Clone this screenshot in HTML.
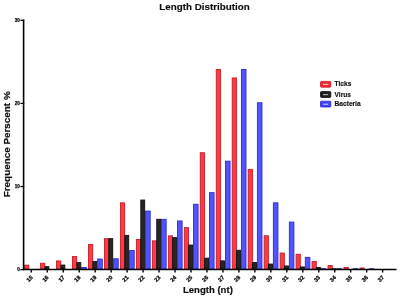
<!DOCTYPE html>
<html><head><meta charset="utf-8"><style>
html,body{margin:0;padding:0;background:#fff;width:400px;height:298px;overflow:hidden}
svg{display:block;will-change:transform}
text{font-family:"Liberation Sans",sans-serif;font-weight:bold;fill:#111}
.yt{font-size:4.6px;stroke:#111;stroke-width:0.25px}
.xt{font-size:5.6px;stroke:#111;stroke-width:0.3px}
.lg{font-size:6.6px;stroke:#111;stroke-width:0.15px}
.ti{font-size:9.8px;stroke:#111;stroke-width:0.15px}
.al{font-size:9.4px;stroke:#111;stroke-width:0.2px}
</style></head><body>
<svg width="400" height="298" viewBox="0 0 400 298">
<rect width="400" height="298" fill="#fff"/>
<text transform="translate(204.5,10.1) scale(1,1)" text-anchor="middle" class="ti">Length Distribution</text>
<text transform="translate(9.6,144.3) rotate(-90)" text-anchor="middle" class="al" style="font-size:9.9px">Frequence Perscent %</text>
<text x="207.9" y="292.7" text-anchor="middle" class="al" style="font-size:9.55px">Length (nt)</text>
<rect x="24.60" y="265.15" width="4.20" height="3.85" fill="#ff3c3c" stroke="#c8182a" stroke-width="0.9"/>
<rect x="40.57" y="263.25" width="4.20" height="5.75" fill="#ff3c3c" stroke="#c8182a" stroke-width="0.9"/>
<rect x="44.97" y="266.65" width="3.90" height="2.35" fill="#262626" stroke="#111111" stroke-width="0.9"/>
<rect x="56.54" y="260.95" width="4.20" height="8.05" fill="#ff3c3c" stroke="#c8182a" stroke-width="0.9"/>
<rect x="60.94" y="265.05" width="3.90" height="3.95" fill="#262626" stroke="#111111" stroke-width="0.9"/>
<rect x="72.51" y="256.55" width="4.20" height="12.45" fill="#ff3c3c" stroke="#c8182a" stroke-width="0.9"/>
<rect x="81.71" y="267.45" width="4.60" height="1.55" fill="#5252ff" stroke="#2e2ed0" stroke-width="0.9"/>
<rect x="76.91" y="262.65" width="3.90" height="6.35" fill="#262626" stroke="#111111" stroke-width="0.9"/>
<rect x="88.48" y="244.55" width="4.20" height="24.45" fill="#ff3c3c" stroke="#c8182a" stroke-width="0.9"/>
<rect x="97.68" y="259.05" width="4.60" height="9.95" fill="#5252ff" stroke="#2e2ed0" stroke-width="0.9"/>
<rect x="92.88" y="261.55" width="3.90" height="7.45" fill="#262626" stroke="#111111" stroke-width="0.9"/>
<rect x="104.45" y="238.65" width="4.20" height="30.35" fill="#ff3c3c" stroke="#c8182a" stroke-width="0.9"/>
<rect x="113.65" y="258.75" width="4.60" height="10.25" fill="#5252ff" stroke="#2e2ed0" stroke-width="0.9"/>
<rect x="108.85" y="238.65" width="3.90" height="30.35" fill="#262626" stroke="#111111" stroke-width="0.9"/>
<rect x="120.42" y="202.85" width="4.20" height="66.15" fill="#ff3c3c" stroke="#c8182a" stroke-width="0.9"/>
<rect x="129.62" y="250.45" width="4.60" height="18.55" fill="#5252ff" stroke="#2e2ed0" stroke-width="0.9"/>
<rect x="124.82" y="235.35" width="3.90" height="33.65" fill="#262626" stroke="#111111" stroke-width="0.9"/>
<rect x="136.39" y="239.45" width="4.20" height="29.55" fill="#ff3c3c" stroke="#c8182a" stroke-width="0.9"/>
<rect x="145.59" y="211.05" width="4.60" height="57.95" fill="#5252ff" stroke="#2e2ed0" stroke-width="0.9"/>
<rect x="140.79" y="200.05" width="3.90" height="68.95" fill="#262626" stroke="#111111" stroke-width="0.9"/>
<rect x="152.36" y="240.85" width="4.20" height="28.15" fill="#ff3c3c" stroke="#c8182a" stroke-width="0.9"/>
<rect x="161.56" y="219.35" width="4.60" height="49.65" fill="#5252ff" stroke="#2e2ed0" stroke-width="0.9"/>
<rect x="156.76" y="219.25" width="3.90" height="49.75" fill="#262626" stroke="#111111" stroke-width="0.9"/>
<rect x="168.33" y="235.85" width="4.20" height="33.15" fill="#ff3c3c" stroke="#c8182a" stroke-width="0.9"/>
<rect x="177.53" y="220.95" width="4.60" height="48.05" fill="#5252ff" stroke="#2e2ed0" stroke-width="0.9"/>
<rect x="172.73" y="237.65" width="3.90" height="31.35" fill="#262626" stroke="#111111" stroke-width="0.9"/>
<rect x="184.30" y="227.65" width="4.20" height="41.35" fill="#ff3c3c" stroke="#c8182a" stroke-width="0.9"/>
<rect x="193.50" y="204.25" width="4.60" height="64.75" fill="#5252ff" stroke="#2e2ed0" stroke-width="0.9"/>
<rect x="188.70" y="245.05" width="3.90" height="23.95" fill="#262626" stroke="#111111" stroke-width="0.9"/>
<rect x="200.27" y="152.75" width="4.20" height="116.25" fill="#ff3c3c" stroke="#c8182a" stroke-width="0.9"/>
<rect x="209.47" y="192.65" width="4.60" height="76.35" fill="#5252ff" stroke="#2e2ed0" stroke-width="0.9"/>
<rect x="204.67" y="258.15" width="3.90" height="10.85" fill="#262626" stroke="#111111" stroke-width="0.9"/>
<rect x="216.24" y="69.45" width="4.20" height="199.55" fill="#ff3c3c" stroke="#c8182a" stroke-width="0.9"/>
<rect x="225.44" y="161.15" width="4.60" height="107.85" fill="#5252ff" stroke="#2e2ed0" stroke-width="0.9"/>
<rect x="220.64" y="260.85" width="3.90" height="8.15" fill="#262626" stroke="#111111" stroke-width="0.9"/>
<rect x="232.21" y="77.95" width="4.20" height="191.05" fill="#ff3c3c" stroke="#c8182a" stroke-width="0.9"/>
<rect x="241.41" y="69.45" width="4.60" height="199.55" fill="#5252ff" stroke="#2e2ed0" stroke-width="0.9"/>
<rect x="236.61" y="250.25" width="3.90" height="18.75" fill="#262626" stroke="#111111" stroke-width="0.9"/>
<rect x="248.18" y="169.35" width="4.20" height="99.65" fill="#ff3c3c" stroke="#c8182a" stroke-width="0.9"/>
<rect x="257.38" y="102.75" width="4.60" height="166.25" fill="#5252ff" stroke="#2e2ed0" stroke-width="0.9"/>
<rect x="252.58" y="262.45" width="3.90" height="6.55" fill="#262626" stroke="#111111" stroke-width="0.9"/>
<rect x="264.15" y="235.75" width="4.20" height="33.25" fill="#ff3c3c" stroke="#c8182a" stroke-width="0.9"/>
<rect x="273.35" y="202.85" width="4.60" height="66.15" fill="#5252ff" stroke="#2e2ed0" stroke-width="0.9"/>
<rect x="268.55" y="264.05" width="3.90" height="4.95" fill="#262626" stroke="#111111" stroke-width="0.9"/>
<rect x="280.12" y="253.05" width="4.20" height="15.95" fill="#ff3c3c" stroke="#c8182a" stroke-width="0.9"/>
<rect x="289.32" y="222.05" width="4.60" height="46.95" fill="#5252ff" stroke="#2e2ed0" stroke-width="0.9"/>
<rect x="284.52" y="265.95" width="3.90" height="3.05" fill="#262626" stroke="#111111" stroke-width="0.9"/>
<rect x="296.09" y="254.25" width="4.20" height="14.75" fill="#ff3c3c" stroke="#c8182a" stroke-width="0.9"/>
<rect x="305.29" y="257.35" width="4.60" height="11.65" fill="#5252ff" stroke="#2e2ed0" stroke-width="0.9"/>
<rect x="300.49" y="266.95" width="3.90" height="2.05" fill="#262626" stroke="#111111" stroke-width="0.9"/>
<rect x="312.06" y="261.45" width="4.20" height="7.55" fill="#ff3c3c" stroke="#c8182a" stroke-width="0.9"/>
<rect x="321.26" y="268.65" width="4.60" height="0.35" fill="#5252ff" stroke="#2e2ed0" stroke-width="0.9"/>
<rect x="316.46" y="267.45" width="3.90" height="1.55" fill="#262626" stroke="#111111" stroke-width="0.9"/>
<rect x="328.03" y="265.55" width="4.20" height="3.45" fill="#ff3c3c" stroke="#c8182a" stroke-width="0.9"/>
<rect x="337.23" y="268.65" width="4.60" height="0.35" fill="#5252ff" stroke="#2e2ed0" stroke-width="0.9"/>
<rect x="332.43" y="268.75" width="3.90" height="0.25" fill="#262626" stroke="#111111" stroke-width="0.9"/>
<rect x="344.00" y="267.35" width="4.20" height="1.65" fill="#ff3c3c" stroke="#c8182a" stroke-width="0.9"/>
<rect x="353.20" y="268.65" width="4.60" height="0.35" fill="#5252ff" stroke="#2e2ed0" stroke-width="0.9"/>
<rect x="359.97" y="268.05" width="4.20" height="0.95" fill="#ff3c3c" stroke="#c8182a" stroke-width="0.9"/>
<rect x="369.17" y="268.75" width="4.60" height="0.25" fill="#5252ff" stroke="#2e2ed0" stroke-width="0.9"/>
<line x1="23.6" y1="19.6" x2="23.6" y2="270.1" stroke="#000" stroke-width="1.6"/>
<line x1="22.8" y1="269.55" x2="396.5" y2="269.55" stroke="#000" stroke-width="1.5"/>
<line x1="20.4" y1="269.60" x2="24.2" y2="269.60" stroke="#000" stroke-width="1.3"/>
<text x="19.8" y="271.20" text-anchor="end" class="yt">0</text>
<line x1="20.4" y1="186.50" x2="24.2" y2="186.50" stroke="#000" stroke-width="1.3"/>
<text x="19.8" y="188.10" text-anchor="end" class="yt">10</text>
<line x1="20.4" y1="103.40" x2="24.2" y2="103.40" stroke="#000" stroke-width="1.3"/>
<text x="19.8" y="105.00" text-anchor="end" class="yt">20</text>
<line x1="20.4" y1="20.30" x2="24.2" y2="20.30" stroke="#000" stroke-width="1.3"/>
<text x="19.8" y="21.90" text-anchor="end" class="yt">30</text>
<line x1="31.30" y1="269" x2="31.30" y2="272.5" stroke="#000" stroke-width="1.4"/>
<text transform="translate(33.10,277.9) rotate(-45)" text-anchor="end" class="xt">15</text>
<line x1="47.27" y1="269" x2="47.27" y2="272.5" stroke="#000" stroke-width="1.4"/>
<text transform="translate(49.07,277.9) rotate(-45)" text-anchor="end" class="xt">16</text>
<line x1="63.24" y1="269" x2="63.24" y2="272.5" stroke="#000" stroke-width="1.4"/>
<text transform="translate(65.04,277.9) rotate(-45)" text-anchor="end" class="xt">17</text>
<line x1="79.21" y1="269" x2="79.21" y2="272.5" stroke="#000" stroke-width="1.4"/>
<text transform="translate(81.01,277.9) rotate(-45)" text-anchor="end" class="xt">18</text>
<line x1="95.18" y1="269" x2="95.18" y2="272.5" stroke="#000" stroke-width="1.4"/>
<text transform="translate(96.98,277.9) rotate(-45)" text-anchor="end" class="xt">19</text>
<line x1="111.15" y1="269" x2="111.15" y2="272.5" stroke="#000" stroke-width="1.4"/>
<text transform="translate(112.95,277.9) rotate(-45)" text-anchor="end" class="xt">20</text>
<line x1="127.12" y1="269" x2="127.12" y2="272.5" stroke="#000" stroke-width="1.4"/>
<text transform="translate(128.92,277.9) rotate(-45)" text-anchor="end" class="xt">21</text>
<line x1="143.09" y1="269" x2="143.09" y2="272.5" stroke="#000" stroke-width="1.4"/>
<text transform="translate(144.89,277.9) rotate(-45)" text-anchor="end" class="xt">22</text>
<line x1="159.06" y1="269" x2="159.06" y2="272.5" stroke="#000" stroke-width="1.4"/>
<text transform="translate(160.86,277.9) rotate(-45)" text-anchor="end" class="xt">23</text>
<line x1="175.03" y1="269" x2="175.03" y2="272.5" stroke="#000" stroke-width="1.4"/>
<text transform="translate(176.83,277.9) rotate(-45)" text-anchor="end" class="xt">24</text>
<line x1="191.00" y1="269" x2="191.00" y2="272.5" stroke="#000" stroke-width="1.4"/>
<text transform="translate(192.80,277.9) rotate(-45)" text-anchor="end" class="xt">25</text>
<line x1="206.97" y1="269" x2="206.97" y2="272.5" stroke="#000" stroke-width="1.4"/>
<text transform="translate(208.77,277.9) rotate(-45)" text-anchor="end" class="xt">26</text>
<line x1="222.94" y1="269" x2="222.94" y2="272.5" stroke="#000" stroke-width="1.4"/>
<text transform="translate(224.74,277.9) rotate(-45)" text-anchor="end" class="xt">27</text>
<line x1="238.91" y1="269" x2="238.91" y2="272.5" stroke="#000" stroke-width="1.4"/>
<text transform="translate(240.71,277.9) rotate(-45)" text-anchor="end" class="xt">28</text>
<line x1="254.88" y1="269" x2="254.88" y2="272.5" stroke="#000" stroke-width="1.4"/>
<text transform="translate(256.68,277.9) rotate(-45)" text-anchor="end" class="xt">29</text>
<line x1="270.85" y1="269" x2="270.85" y2="272.5" stroke="#000" stroke-width="1.4"/>
<text transform="translate(272.65,277.9) rotate(-45)" text-anchor="end" class="xt">30</text>
<line x1="286.82" y1="269" x2="286.82" y2="272.5" stroke="#000" stroke-width="1.4"/>
<text transform="translate(288.62,277.9) rotate(-45)" text-anchor="end" class="xt">31</text>
<line x1="302.79" y1="269" x2="302.79" y2="272.5" stroke="#000" stroke-width="1.4"/>
<text transform="translate(304.59,277.9) rotate(-45)" text-anchor="end" class="xt">32</text>
<line x1="318.76" y1="269" x2="318.76" y2="272.5" stroke="#000" stroke-width="1.4"/>
<text transform="translate(320.56,277.9) rotate(-45)" text-anchor="end" class="xt">33</text>
<line x1="334.73" y1="269" x2="334.73" y2="272.5" stroke="#000" stroke-width="1.4"/>
<text transform="translate(336.53,277.9) rotate(-45)" text-anchor="end" class="xt">34</text>
<line x1="350.70" y1="269" x2="350.70" y2="272.5" stroke="#000" stroke-width="1.4"/>
<text transform="translate(352.50,277.9) rotate(-45)" text-anchor="end" class="xt">35</text>
<line x1="366.67" y1="269" x2="366.67" y2="272.5" stroke="#000" stroke-width="1.4"/>
<text transform="translate(368.47,277.9) rotate(-45)" text-anchor="end" class="xt">36</text>
<line x1="382.64" y1="269" x2="382.64" y2="272.5" stroke="#000" stroke-width="1.4"/>
<text transform="translate(384.44,277.9) rotate(-45)" text-anchor="end" class="xt">37</text>
<rect x="320.5" y="81.40" width="10.3" height="5.8" rx="0.8" fill="#ee2a34" stroke="#d01826" stroke-width="0.8"/>
<rect x="323" y="83.80" width="5.2" height="1.2" fill="#ffc0c0"/>
<text x="334.6" y="86.30" class="lg">Ticks</text>
<rect x="320.5" y="91.60" width="10.3" height="5.8" rx="0.8" fill="#1e1e1e" stroke="#0e0e0e" stroke-width="0.8"/>
<rect x="323" y="94.00" width="5.2" height="1.2" fill="#a8a8b8"/>
<text x="334.6" y="96.50" class="lg">Virus</text>
<rect x="320.5" y="101.20" width="10.3" height="5.8" rx="0.8" fill="#4040f4" stroke="#2a2ad8" stroke-width="0.8"/>
<rect x="323" y="103.60" width="5.2" height="1.2" fill="#c0c0ff"/>
<text x="334.6" y="106.10" class="lg">Bacteria</text>
</svg>
</body></html>
